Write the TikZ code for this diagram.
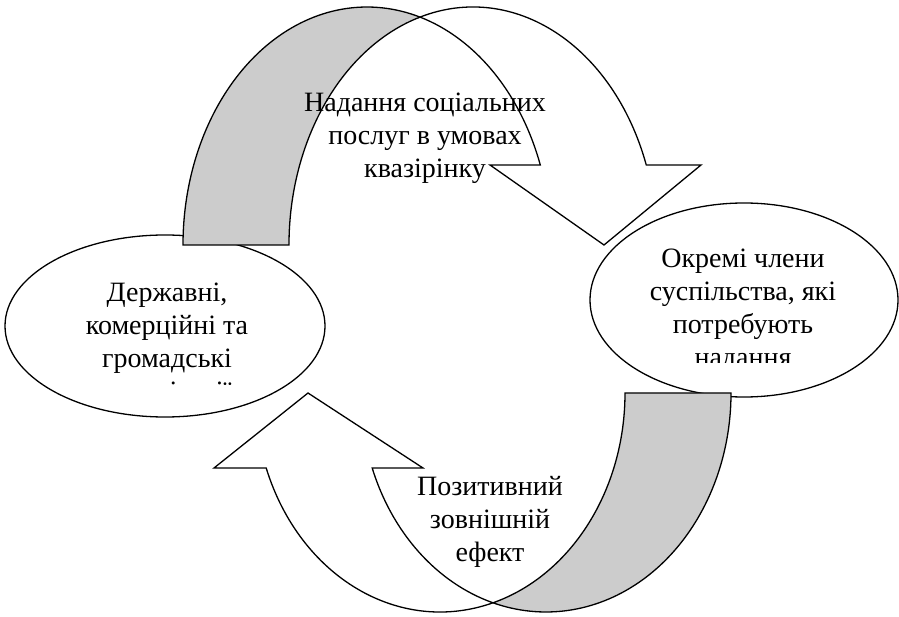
\documentclass[tikz,border=0pt]{standalone}
\usepackage{fontspec}
\setmainfont{Liberation Serif}
\usetikzlibrary{shapes.geometric}
\tikzstyle{node_oval} = [ellipse, draw, fill=white, line width=1.3pt, inner sep=0pt]
\tikzstyle{node_label} = [align=center, anchor=base, inner sep=0pt, font=\fontsize{28}{33}\selectfont]
\tikzstyle{band_back} = [draw, fill=black!20, line width=1.3pt]
\tikzstyle{band_front} = [draw, fill=white, line width=1.3pt]

\begin{document}
\begin{tikzpicture}[x=1pt, y=1pt]
			\useasboundingbox (0,0) rectangle (899,616);
			\node (L) at (165,290) [node_oval, minimum width=320pt, minimum height=182pt] {};
			\node (R) at (744,316) [node_oval, minimum width=308pt, minimum height=194pt] {};
			
			\begin{scope}
				\clip (0,231) rectangle (340,400);
				\node (Ltext) at (167,215) [node_label] {Державні,\\комерційні та\\громадські\\організації};
			\end{scope}
			\begin{scope}
				\clip (580,253) rectangle (899,420);
				\node (Rtext) at (743,249) [node_label] {Окремі члени\\суспільства, які\\потребують\\надання};
			\end{scope}
			
			\draw[band_back] (183,371) arc[start angle=180, end angle=73.26, x radius=184, y radius=238]
				arc[start angle=106.74, end angle=180, x radius=184, y radius=238] -- cycle;
			\draw[band_front] (420,598.9) arc[start angle=106.74, end angle=19.64, x radius=184, y radius=238]
				-- (701,451) -- (604,371) -- (490,451) -- (540.3,451)
				arc[start angle=19.64, end angle=73.26, x radius=184, y radius=238] -- cycle;
			
			\draw[band_back] (731,223) arc[start angle=0, end angle=-106.65, x radius=185, y radius=219]
				arc[start angle=-73.35, end angle=0, x radius=185, y radius=219] -- cycle;
			\draw[band_front] (493,13.2) arc[start angle=-73.35, end angle=-159.97, x radius=185, y radius=219]
				-- (214,148) -- (308,223) -- (423,148) -- (372.2,148)
				arc[start angle=200.03, end angle=253.35, x radius=185, y radius=219] -- cycle;
			
			\node (T) at (425,438) [node_label] {Надання соціальних\\послуг в умовах\\квазірінку};
			\node (B) at (490,55) [node_label] {Позитивний\\зовнішній\\ефект};
		\end{tikzpicture}
\end{document}
